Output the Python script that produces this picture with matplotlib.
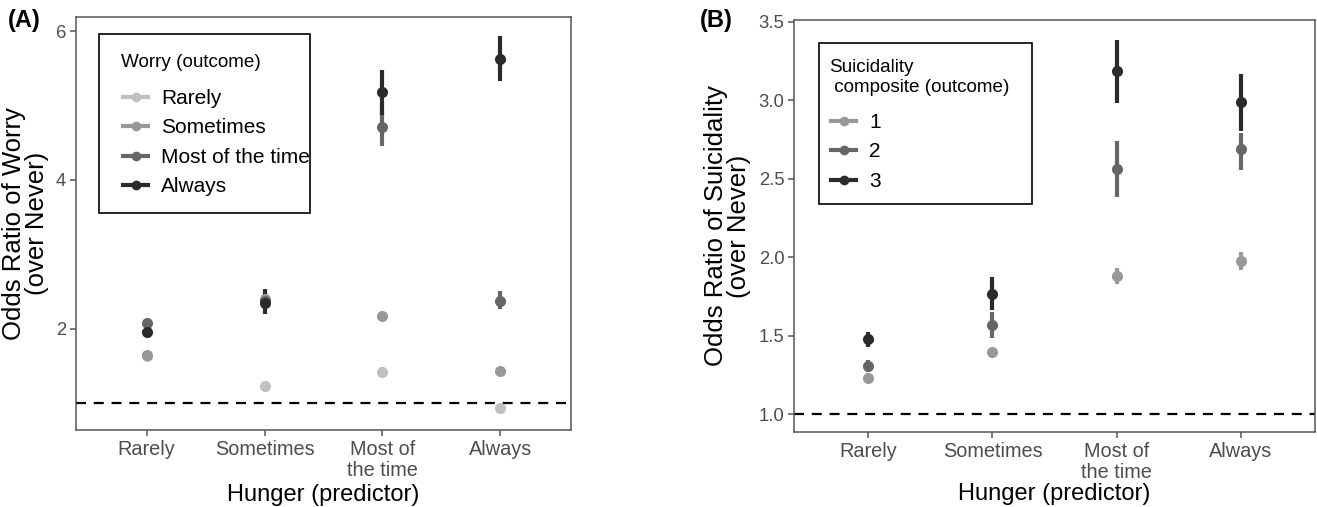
import matplotlib
matplotlib.use("Agg")
import matplotlib.pyplot as plt
from matplotlib.lines import Line2D
from matplotlib.patches import Rectangle
import numpy as np

plt.rcParams['font.family'] = ['Liberation Sans', 'DejaVu Sans']

# ---------------- data ----------------
hunger_levels = ["Rarely", "Sometimes", "Most of\nthe time", "Always"]

worry_labels = ["Rarely", "Sometimes", "Most of the time", "Always"]
worry_or = [
    [1.64, 1.23, 1.42, 0.93],   # Rarely
    [1.65, 2.40, 2.17, 1.43],   # Sometimes
    [2.08, 2.37, 4.71, 2.38],   # Most of the time
    [1.96, 2.35, 5.18, 5.63],   # Always
]
worry_lo = [
    [1.61, 1.20, 1.36, 0.90],
    [1.62, 2.33, 2.13, 1.40],
    [2.03, 2.25, 4.46, 2.26],
    [1.90, 2.20, 4.87, 5.33],
]
worry_hi = [
    [1.68, 1.27, 1.48, 0.97],
    [1.69, 2.47, 2.21, 1.47],
    [2.13, 2.50, 4.95, 2.51],
    [2.02, 2.53, 5.48, 5.94],
]

suic_labels = ["1", "2", "3"]
suic_or = [
    [1.233, 1.398, 1.879, 1.975],
    [1.309, 1.568, 2.563, 2.690],
    [1.477, 1.765, 3.184, 2.987],
]
suic_lo = [
    [1.21, 1.38, 1.83, 1.917],
    [1.27, 1.485, 2.385, 2.555],
    [1.43, 1.66, 2.982, 2.80],
]
suic_hi = [
    [1.26, 1.42, 1.93, 2.03],
    [1.347, 1.65, 2.741, 2.79],
    [1.52, 1.875, 3.383, 3.166],
]

worry_colors = ["#C0C0C0", "#989898", "#666666", "#2B2B2B"]
suic_colors = ["#989898", "#666666", "#2B2B2B"]

W, H = 1317, 507
fig = plt.figure(figsize=(W / 100, H / 100), dpi=100)

def fx(px):
    return px / W

def fy(py):
    return 1 - py / H

def px_axes(x0, y0, x1, y1):
    return fig.add_axes([fx(x0), fy(y1), (x1 - x0) / W, (y1 - y0) / H])

axA = px_axes(76, 17, 571, 430)
axB = px_axes(794, 20, 1315, 432)

TICK_COL = "#4D4D4D"
SPINE_COL = "#555555"

def draw_panel(ax, vals, lo, hi, colors, labels, ylim, yticks, yticklabels,
               ylabel, legend_title, frame_px, title_px, entries_px, xlpad):
    x = np.arange(len(hunger_levels))
    ax.axhline(1.0, color="black", lw=1.6, ls=(0, (4.5, 3.5)), zorder=1)
    for v, l, h, c in zip(vals, lo, hi, colors):
        v = np.array(v); l = np.array(l); h = np.array(h)
        ax.vlines(x, l, h, color=c, lw=3.0, zorder=2)
        ax.plot(x, v, "o", color=c, ms=8, zorder=3, mec="none")
    ax.set_xlim(-0.6, len(hunger_levels) - 0.4)
    ax.set_ylim(*ylim)
    ax.set_xticks(x)
    ax.set_xticklabels(hunger_levels, fontsize=14.3, color=TICK_COL,
                       linespacing=1.12)
    ax.set_yticks(yticks)
    ax.set_yticklabels(yticklabels, fontsize=13.3, color=TICK_COL)
    ax.tick_params(axis="both", direction="out", length=4, width=1.1,
                   color=SPINE_COL, pad=3)
    for s in ax.spines.values():
        s.set_color(SPINE_COL)
        s.set_linewidth(1.1)
    ax.set_xlabel("Hunger (predictor)", fontsize=17, labelpad=xlpad)
    ax.set_ylabel(ylabel, fontsize=18.5, labelpad=5, linespacing=0.95)

    # legend frame and title (ggplot-style box)
    x0, y0, x1, y1 = frame_px
    ax.add_patch(Rectangle((fx(x0), fy(y1)), (x1 - x0) / W,
                           (y1 - y0) / H, transform=fig.transFigure,
                           fill=True, facecolor="white", clip_on=False,
                           edgecolor="black", lw=1.2, zorder=5))
    ax.text(fx(title_px[0]), fy(title_px[1]), legend_title, fontsize=13.6,
            ha="left", va="top", linespacing=1.25, zorder=6,
            transform=fig.transFigure)
    handles = [Line2D([0], [0], color=c, lw=3.0, marker="o", ms=7,
                      mec="none") for c in colors]
    leg = ax.legend(handles, labels, loc="upper left",
                    bbox_to_anchor=(fx(entries_px[0]), fy(entries_px[1])),
                    bbox_transform=fig.transFigure, borderaxespad=0,
                    fontsize=15, frameon=False, handlelength=1.2,
                    handletextpad=0.62, labelspacing=0.5, borderpad=0)
    leg.set_zorder(7)

draw_panel(axA, worry_or, worry_lo, worry_hi, worry_colors, worry_labels,
           (0.64, 6.19), [2, 4, 6], ["2", "4", "6"],
           "Odds Ratio of Worry\n(over Never)", "Worry (outcome)",
           (99, 34, 310, 213), (121, 54), (123, 89), 3)
draw_panel(axB, suic_or, suic_lo, suic_hi, suic_colors, suic_labels,
           (0.886, 3.51), [1.0, 1.5, 2.0, 2.5, 3.0, 3.5],
           ["1.0", "1.5", "2.0", "2.5", "3.0", "3.5"],
           "Odds Ratio of Suicidality\n(over Never)",
           "Suicidality\n composite (outcome)",
           (819, 43, 1032, 204), (829, 59), (831, 113), 1)

fig.text(8 / W, 1 - 21 / H, "(A)", fontsize=17, fontweight="bold",
         va="center", ha="left")
fig.text(700 / W, 1 - 21 / H, "(B)", fontsize=17, fontweight="bold",
         va="center", ha="left")

fig.savefig("out.png", dpi=100)
